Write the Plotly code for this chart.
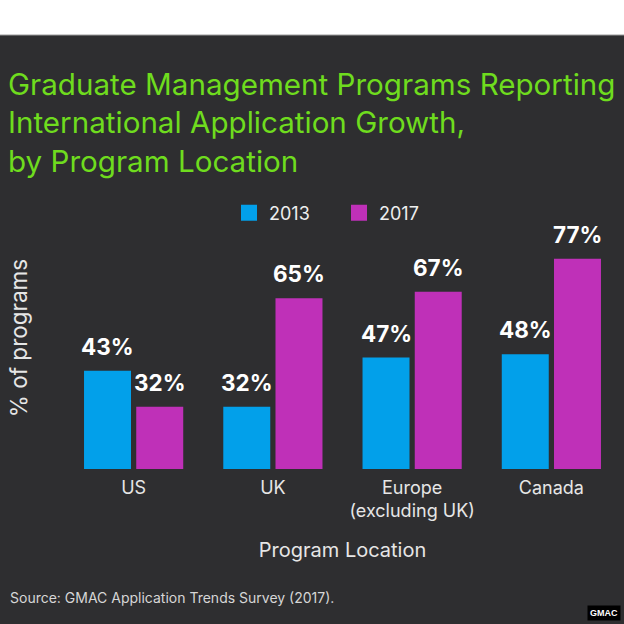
import plotly.graph_objects as go

categories = ["US", "UK", "Europe<br>(excluding UK)", "Canada"]
series_names = ["2013", "2017"]
values_2013 = [43, 32, 47, 48]
values_2017 = [32, 65, 67, 77]
colors = ["#02a0ea", "#bf30b8"]

BG = "#2e2e30"
FONT = "Inter"

W, H = 624, 624
ML, MR, MT, MB = 64, 3, 207, 155
PW, PH = W - ML - MR, H - MT - MB
BASE_Y = H - MB


def px(x):
    return (x - ML) / PW


def py(y):
    return (BASE_Y - y) / PH


fig = go.Figure()
for name, vals, col in zip(series_names, [values_2013, values_2017], colors):
    fig.add_trace(go.Bar(x=categories, y=vals, name=name, marker_color=col,
                         marker_line_width=0, showlegend=False, hoverinfo="skip"))
# legend entries with larger square swatches
for name, col in zip(series_names, colors):
    fig.add_trace(go.Scatter(x=[None], y=[None], mode="markers", name=name,
                             marker=dict(symbol="square", size=16, color=col)))

annotations = []
offsets = [-26, 26]
for vals, xs in zip([values_2013, values_2017], offsets):
    for c, v in zip(categories, vals):
        annotations.append(dict(x=c, y=v, xref="x", yref="y", text=f"{v}%",
                                showarrow=False, xshift=xs, yshift=9, yanchor="bottom",
                                font=dict(family=FONT, size=22.5, color="white", weight="bold")))

annotations.append(dict(x=px(8), y=py(597), xref="paper", yref="paper",
                        text="Source: GMAC Application Trends Survey (2017).", showarrow=False,
                        xanchor="left", yanchor="middle",
                        font=dict(family=FONT, size=14, color="#d6d6d6")))
annotations.append(dict(x=px(621), y=py(613), xref="paper", yref="paper",
                        text="<b>GMAC</b>", showarrow=False, xanchor="right",
                        yanchor="middle", bgcolor="black", borderpad=2,
                        font=dict(family="Liberation Sans", size=9, color="white")))

fig.update_layout(
    width=W, height=H,
    margin=dict(l=ML, r=MR, t=MT, b=MB),
    paper_bgcolor=BG, plot_bgcolor=BG,
    barmode="group", bargap=0.25, bargroupgap=0.1,
    font=dict(family=FONT, color="#e6e6e6"),
    title=dict(text="Graduate Management Programs Reporting<br>International Application Growth,<br>by Program Location",
               x=8 / W, xanchor="left", xref="container",
               y=1 - 95 / H, yanchor="top", yref="container",
               font=dict(family=FONT, size=29.6, color="#6fdc1e")),
    legend=dict(orientation="h", x=px(229), xanchor="left", y=py(213), yanchor="middle",
                font=dict(family=FONT, size=18, color="#eeeeee"), bgcolor="rgba(0,0,0,0)",
                itemclick=False, entrywidth=65),
    xaxis=dict(showgrid=False, zeroline=False, showline=False, ticks="",
               tickfont=dict(family=FONT, size=18, color="#e6e6e6"), ticklabelstandoff=6,
               title=dict(text="Program Location", standoff=22,
                          font=dict(family=FONT, size=20, color="#e6e6e6"))),
    yaxis=dict(range=[13.1, 13.1 + PH / 3.289], showgrid=False, zeroline=False,
               showticklabels=False,
               title=dict(text="% of programs", standoff=29,
                          font=dict(family=FONT, size=22.5, color="#e6e6e6"))),
    shapes=[dict(type="rect", xref="paper", yref="paper", x0=-0.2, x1=1.1,
                 y0=py(35), y1=py(-10), fillcolor="white",
                 line=dict(color="#9a9a9a", width=1), layer="below")],
    annotations=annotations,
)

fig.write_html("out.html", config={"displayModeBar": False},
               post_script="document.body.style.margin='0';")
